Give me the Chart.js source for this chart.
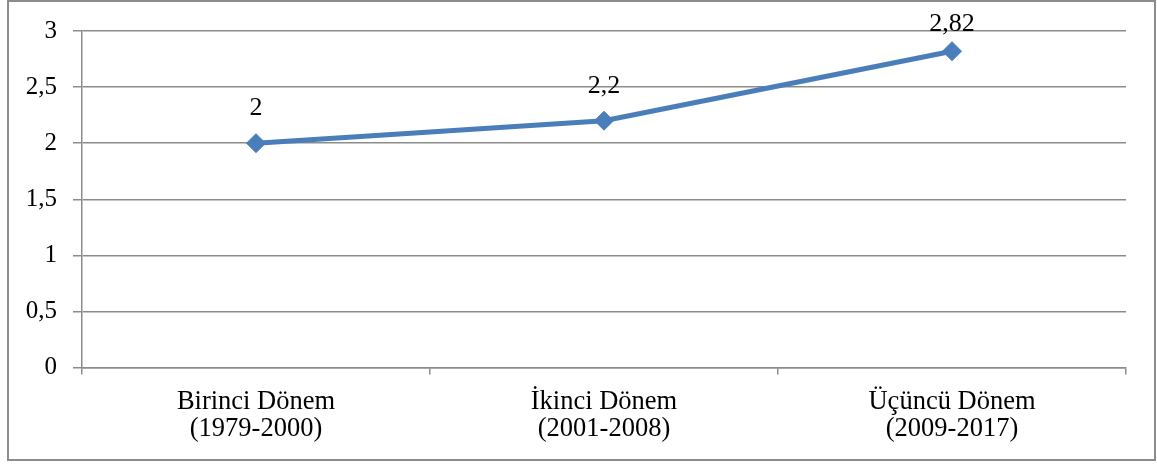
<!DOCTYPE html>
<html lang="tr">
<head>
<meta charset="utf-8">
<title>Dönemlere göre ortalama</title>
<script src="https://cdn.jsdelivr.net/npm/chart.js@4/dist/chart.umd.min.js"></script>
<style>
  html, body { margin: 0; padding: 0; background: #ffffff; }
  #wrap { position: relative; width: 1157px; height: 464px; }
</style>
</head>
<body>
<div id="wrap"><canvas id="chart" width="1157" height="464"></canvas></div>
<script>
// Categories (two-line labels) and the series value for each period
const categories = [
  ['Birinci Dönem', '(1979-2000)'],
  ['İkinci Dönem', '(2001-2008)'],
  ['Üçüncü Dönem', '(2009-2017)']
];
const values = [2, 2.2, 2.82];
const yTicks = [0, 0.5, 1, 1.5, 2, 2.5, 3];

const serif = '"Liberation Serif", "Times New Roman", serif';
const gridGray = '#8c8c8c';
const lineBlue = '#4a7ebb';

const fmt = v => String(v).replace('.', ',');

// Gray frame around the whole figure
const framePlugin = {
  id: 'frame',
  beforeDraw(chart) {
    const ctx = chart.ctx;
    ctx.save();
    ctx.fillStyle = '#ffffff';
    ctx.fillRect(0, 0, chart.width, chart.height);
    ctx.strokeStyle = '#8c8c8c';
    ctx.lineWidth = 2;
    ctx.strokeRect(8, 1, 1147, 459);
    ctx.restore();
  }
};

// Value labels above each point, kept inside the plot area
const valueLabels = {
  id: 'valueLabels',
  afterDatasetsDraw(chart) {
    const ctx = chart.ctx;
    const meta = chart.getDatasetMeta(0);
    const ds = chart.data.datasets[0];
    ctx.save();
    ctx.font = '26px ' + serif;
    ctx.fillStyle = '#000000';
    ctx.textAlign = 'center';
    ctx.textBaseline = 'alphabetic';
    meta.data.forEach((pt, i) => {
      const y = Math.max(pt.y - 28, chart.chartArea.top);
      ctx.fillText(fmt(ds.data[i]), pt.x, y);
    });
    ctx.restore();
  }
};

new Chart(document.getElementById('chart'), {
  type: 'line',
  data: {
    labels: categories,
    datasets: [{
      data: values,
      borderColor: lineBlue,
      backgroundColor: lineBlue,
      borderWidth: 5,
      pointStyle: 'rectRot',
      pointRadius: 9.5,
      pointHoverRadius: 9.5,
      pointBorderWidth: 1,
      pointBorderColor: lineBlue,
      pointBackgroundColor: lineBlue,
      tension: 0,
      fill: false
    }]
  },
  options: {
    responsive: false,
    animation: false,
    events: [],
    layout: { padding: { left: 0, right: 31, top: 29.5, bottom: 0 } },
    plugins: {
      legend: { display: false },
      tooltip: { enabled: false },
      title: { display: false }
    },
    scales: {
      x: {
        type: 'category',
        offset: true,
        grid: {
          offset: true,
          drawOnChartArea: false,
          drawTicks: true,
          tickLength: 7,
          color: gridGray,
          lineWidth: 1.5
        },
        border: { display: true, color: gridGray, width: 1.5 },
        ticks: {
          color: '#000000',
          font: { family: serif, size: 26.5, lineHeight: 1.02 },
          padding: 14,
          maxRotation: 0,
          autoSkip: false
        },
        afterFit(scale) { scale.height = 96.5; }
      },
      y: {
        min: 0,
        max: 3,
        afterBuildTicks(scale) { scale.ticks = yTicks.map(v => ({ value: v })); },
        grid: {
          drawTicks: true,
          tickLength: 9,
          color: gridGray,
          lineWidth: 1.5
        },
        border: { display: true, color: gridGray, width: 1.5 },
        ticks: {
          color: '#000000',
          font: { family: serif, size: 25 },
          padding: 16,
          callback: v => fmt(v)
        },
        afterFit(scale) { scale.width = 82; }
      }
    }
  },
  plugins: [framePlugin, valueLabels]
});
</script>
</body>
</html>
